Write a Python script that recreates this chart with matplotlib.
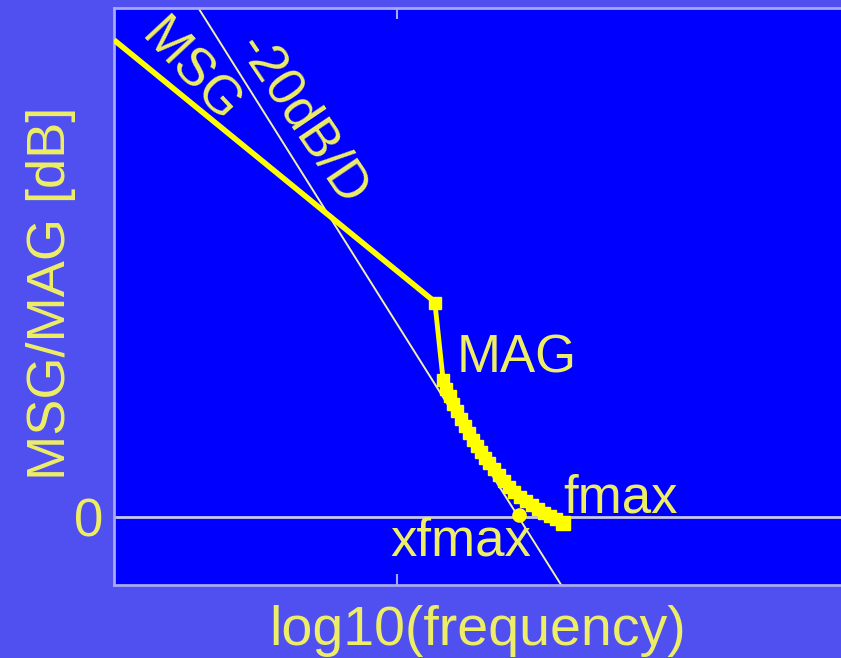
import numpy as np
import matplotlib
matplotlib.use("Agg")
import matplotlib.pyplot as plt

plt.rcParams['font.family'] = ['Liberation Sans', 'DejaVu Sans']

# MSG: -10 dB/decade asymptote (log10 f, dB)
msg_logf = [8.00, 8.50, 9.00, 9.13]
msg_db = [20.65, 15.65, 10.65, 9.35]

# MAG curve after the stability point k=1
mag_logf = [9.134, 9.163, 9.173, 9.187, 9.198, 9.212, 9.226, 9.240, 9.254,
            9.269, 9.283, 9.297, 9.311, 9.325, 9.343, 9.360, 9.378, 9.396,
            9.413, 9.435, 9.456, 9.477, 9.498, 9.519, 9.541, 9.562, 9.587]
mag_db = [9.26, 5.93, 5.54, 5.24, 4.89, 4.59, 4.24, 3.94, 3.64,
          3.33, 3.07, 2.81, 2.55, 2.34, 2.08, 1.82, 1.56, 1.30,
          1.08, 0.87, 0.69, 0.52, 0.35, 0.17, 0.04, -0.09, -0.26]

# -20 dB/decade extrapolation line
ext_logf = [8.30, 9.58]
ext_db = [22.0, -2.94]

# extrapolated fmax point
xfmax_logf = 9.431
xfmax_db = 0.09

bg = '#5050f0'
face = '#0000ff'
yel = '#ffff00'
txt = '#eeee66'
frame = '#a8a8f0'

fig = plt.figure(figsize=(8.41, 6.58), dpi=100, facecolor=bg)
ax = fig.add_axes([114/841, 73/658, 736/841, 577/658], facecolor=face)

ax.axhline(0, color='#c8c8e8', lw=2, zorder=1)
ax.plot(ext_logf, ext_db, color='#f0f0a0', lw=1.4, zorder=2)
ax.plot(msg_logf, msg_db, color=yel, lw=4, solid_capstyle='butt', zorder=3)
ax.plot(mag_logf, mag_db, color=yel, lw=3.5, marker='s', ms=8, zorder=4)
ax.plot(mag_logf[-1], mag_db[-1], color=yel, marker='s', ms=9.5, zorder=4)
ax.plot(xfmax_logf, xfmax_db, color=yel, marker='o', ms=9.5, zorder=5)

fs = 38
ax.text(8.27, 19.25, 'MSG', color=txt, fontsize=fs, rotation=-47,
        ha='center', va='center', rotation_mode='anchor')
ax.text(8.665, 17.2, '-20dB/D', color=txt, fontsize=fs, rotation=-56,
        ha='center', va='center', rotation_mode='anchor')
ax.text(9.424, 6.88, 'MAG', color=txt, fontsize=fs, ha='center', va='center')
ax.text(9.79, 0.78, 'fmax', color=txt, fontsize=fs, ha='center', va='center')
ax.text(9.226, -1.05, 'xfmax', color=txt, fontsize=fs, ha='center', va='center')

ax.set_xlim(8.0, 8.0 + 736/283)
ax.set_ylim(-68/23.1, 509/23.1)
ax.set_xticks([9])
ax.set_xticklabels([])
ax.set_yticks([0])
ax.set_yticklabels(['0'])
ax.tick_params(axis='x', direction='in', length=8, width=1.5, color=frame,
               top=True, bottom=True)
ax.tick_params(axis='y', direction='in', length=0, pad=8, labelsize=fs,
               labelcolor=txt)
for s in ax.spines.values():
    s.set_color(frame)
    s.set_linewidth(2)

ax.set_xlabel('log10(frequency)', color=txt, fontsize=40)
ax.xaxis.set_label_coords((478 - 114) / 736, (585 - 645) / 577)
ax.xaxis.label.set_va('baseline')
ax.set_ylabel('MSG/MAG [dB]', color=txt, fontsize=39)
ax.yaxis.set_label_coords((51 - 114) / 736, (585 - 293) / 577)
ax.yaxis.label.set_va('center')

fig.savefig('out.png', dpi=100, facecolor=bg)
